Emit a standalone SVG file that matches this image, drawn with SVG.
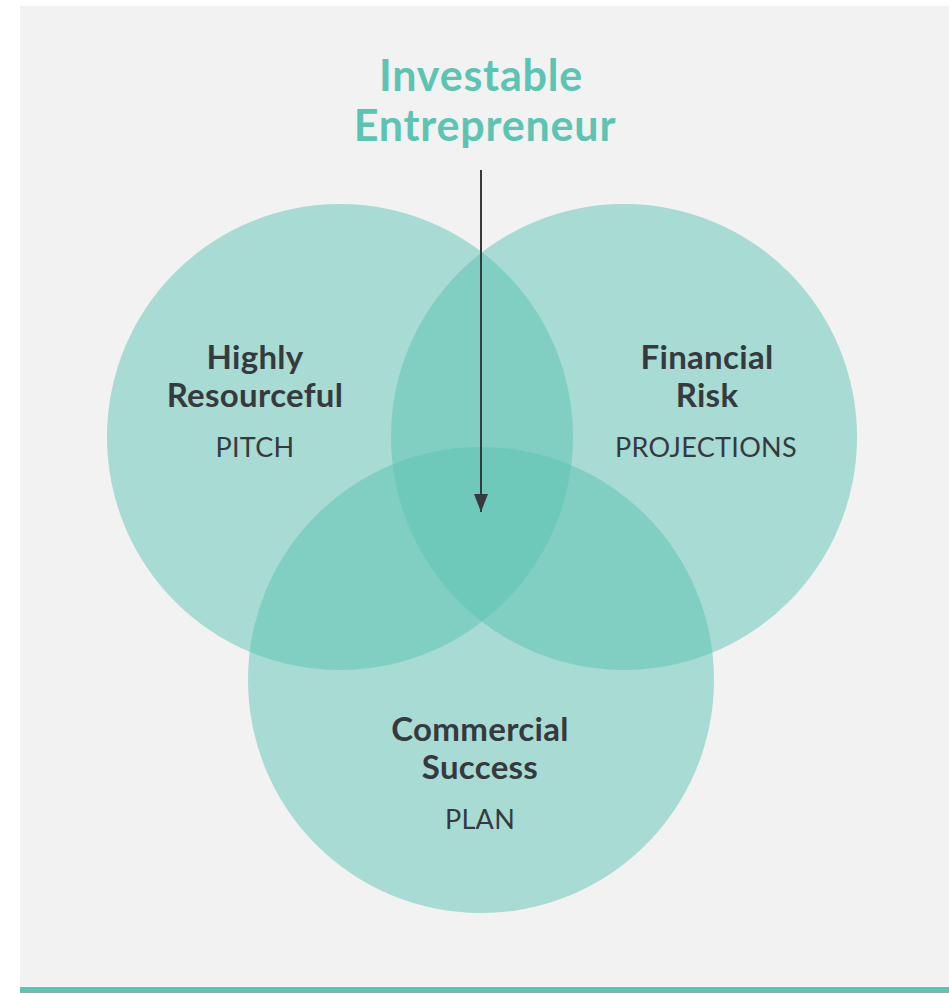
<svg xmlns="http://www.w3.org/2000/svg" width="949" height="993" viewBox="0 0 949 993">
<defs>
<style>
.c{fill:#5cc4b4;fill-opacity:0.5}
.t{font-family:Lato,"Open Sans",sans-serif;font-weight:700;fill:#5cc4b3;font-size:43px;text-anchor:middle;letter-spacing:0.8px}
.h{font-family:Lato,"Open Sans",sans-serif;font-weight:700;fill:#363a3f;font-size:33px;text-anchor:middle;letter-spacing:0.3px}
.s{font-family:Lato,"Open Sans",sans-serif;font-weight:400;fill:#363a3f;font-size:27px;text-anchor:middle;letter-spacing:0.3px}
</style>
<marker id="ah" viewBox="0 0 18 14" refX="18" refY="7" markerWidth="18" markerHeight="14" markerUnits="userSpaceOnUse" orient="auto">
<path d="M0,0 L18,7 L0,14 Z" fill="#363a3f"/>
</marker>
</defs>
<rect x="20" y="6" width="929" height="987" fill="#f2f2f2"/>
<rect x="20" y="987" width="929" height="6" fill="#5cc4b3"/>
<g id="title">
<text class="t" x="481" y="91">Investable</text>
<text class="t" x="485" y="141">Entrepreneur</text>
</g>
<g id="node-resourceful">
<circle class="c" cx="340" cy="437" r="233"/>
<text class="h" x="255" y="369">Highly</text>
<text class="h" x="255" y="407">Resourceful</text>
<text class="s" x="255" y="457">PITCH</text>
</g>
<g id="node-financial">
<circle class="c" cx="624" cy="437" r="233"/>
<text class="h" x="707" y="369">Financial</text>
<text class="h" x="707" y="407">Risk</text>
<text class="s" x="706" y="457">PROJECTIONS</text>
</g>
<g id="node-commercial">
<circle class="c" cx="481" cy="680" r="233"/>
<text class="h" x="480" y="741">Commercial</text>
<text class="h" x="480" y="779">Success</text>
<text class="s" x="480" y="829">PLAN</text>
</g>
<g id="connectors">
<line x1="481" y1="170" x2="481" y2="512" stroke="#363a3f" stroke-width="2" marker-end="url(#ah)"/>
</g>
</svg>
